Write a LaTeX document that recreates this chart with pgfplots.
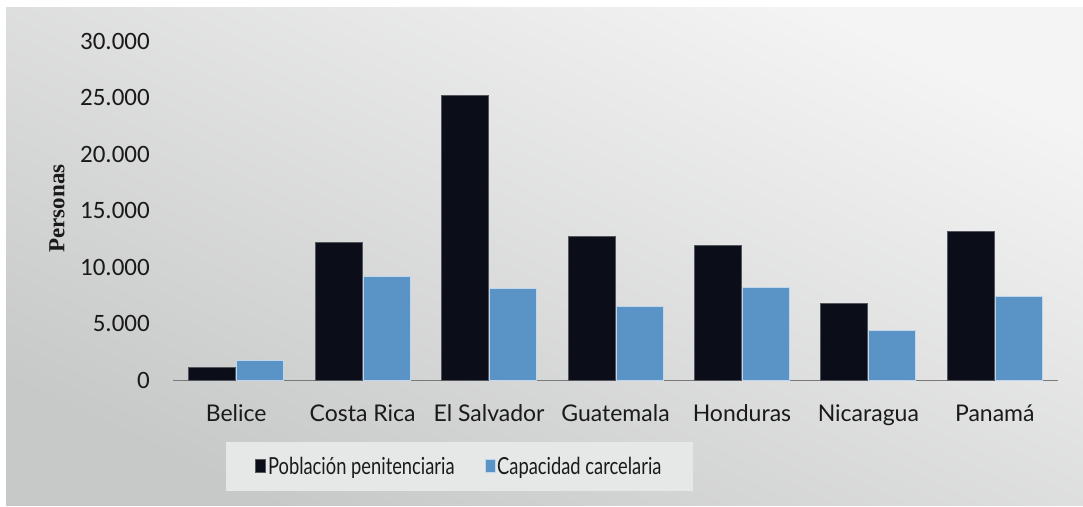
\documentclass[border=0pt]{standalone}
\usepackage{fontspec}
\setmainfont{Lato}
\newfontfamily\tickfont{Carlito}
\newfontfamily\legfont[FakeStretch=0.78]{Lato}
\newfontfamily\ylabfont{Liberation Serif}
\usepackage{pgfplots}
\pgfplotsset{compat=1.18}
\definecolor{barblack}{HTML}{0B0E19}
\definecolor{barblackedge}{HTML}{55575E}
\definecolor{barblue}{HTML}{5A94C7}
\definecolor{barblueedge}{HTML}{C3D7EC}
\definecolor{axisgray}{HTML}{7A7A7A}
\definecolor{bgtop}{HTML}{F4F4F4}
\definecolor{bgbot}{HTML}{C7C8C8}
\definecolor{legbg}{HTML}{E6E7E7}
\definecolor{txt}{HTML}{1A1A1A}
\begin{document}
\begin{tikzpicture}[x=1pt,y=1pt]
\fill[white] (0,0) rectangle (1083,506);
\shade[shading=axis, top color=bgtop, bottom color=bgbot, shading angle=-25] (6,1) rectangle (1083,498);
\fill[legbg] (226,15) rectangle (693,64);
\begin{axis}[
  at={(173pt,126pt)}, anchor=south west,
  scale only axis, width=885pt, height=339pt,
  ymin=0, ymax=30000, xmin=-0.5, xmax=6.5,
  axis x line=bottom, axis y line=left,
  x axis line style={-, draw=axisgray, line width=1pt},
  y axis line style={draw=none},
  major tick length=0pt, tick style={draw=none},
  ytick={0,5000,10000,15000,20000,25000,30000},
  scaled y ticks=false,
  /pgf/number format/1000 sep={.},
  /pgf/number format/assume math mode=true,
  yticklabel style={font=\tickfont\fontsize{25}{25}\selectfont, text=txt, inner sep=0pt, anchor=east, xshift=-23pt},
  xtick={0,1,2,3,4,5,6},
  xticklabels={Belice, Costa Rica, El Salvador, Guatemala, Honduras, Nicaragua, Panamá},
  xticklabel style={font=\fontsize{23}{23}\selectfont, text=txt, inner sep=0pt, anchor=base, yshift=-41pt},
  ylabel={Personas},
  ylabel style={font=\ylabfont\bfseries\fontsize{23}{23}\selectfont, text=txt, at={(axis description cs:-0.131,0.506)}, anchor=center},
  legend style={at={(axis description cs:0.3237,-0.2552)}, anchor=center, draw=none, fill=none,
    legend columns=2, font=\legfont\fontsize{23.5}{23.5}\selectfont, text=txt,
    /tikz/every even column/.append style={column sep=28pt}},
  legend image code/.code={\draw[#1, line width=0.6pt] (0pt,-6pt) rectangle (10pt,7pt);},
]
\addplot[ybar, bar width=47pt, bar shift=-24pt, fill=barblack, draw=barblackedge, line width=1pt]
  coordinates {(0,1100) (1,12200) (2,25200) (3,12700) (4,11900) (5,6800) (6,13100)};
\addlegendentry{Población penitenciaria}
\addplot[ybar, bar width=47pt, bar shift=24pt, fill=barblue, draw=barblueedge, line width=1pt]
  coordinates {(0,1700) (1,9200) (2,8100) (3,6500) (4,8200) (5,4400) (6,7400)};
\addlegendentry{Capacidad carcelaria}
\end{axis}
\end{tikzpicture}
\end{document}
